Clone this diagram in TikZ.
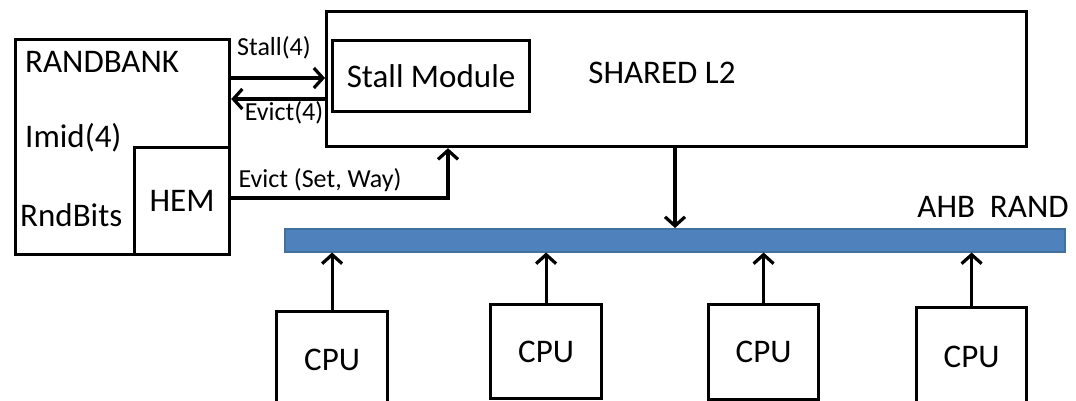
\documentclass[tikz,border=0pt]{standalone}
\usepackage{fontspec}
\setmainfont{Carlito}
\usetikzlibrary{arrows.meta}
\definecolor{busfill}{HTML}{4F81BD}
\definecolor{busedge}{HTML}{41719C}
\begin{document}
\begin{tikzpicture}[x=1pt,y=-1pt,
  blk/.style={draw, line width=3.2pt, inner sep=0pt, anchor=north west},
  big/.style={font=\fontsize{33}{33}\selectfont},
  small/.style={font=\fontsize{26}{26}\selectfont},
  link/.style={line width=3.2pt, -{Straight Barb[length=9pt,width=20pt,line width=3.2pt]}},
  lbl/.style={inner sep=0pt},
]
\useasboundingbox (0,0) rectangle (1076,401);
\clip (0,0) rectangle (1076,401);

% random bank with its hardware eviction module
\node[blk, minimum width=214pt, minimum height=215pt] (rb) at (14,38) {};
\node[blk, big, minimum width=95pt, minimum height=107pt] (hem) at (133,146) {HEM};
\node[big, lbl, anchor=west] (rbname) at (25,62) {RANDBANK};
\node[big, lbl, anchor=west] (imid) at (25,138) {Imid(4)};
\node[big, lbl, anchor=west] (rnd) at (20,215) {RndBits};

% shared L2 cache
\node[blk, minimum width=700pt, minimum height=135pt] (l2) at (325,10) {};
\node[blk, big, minimum width=197pt, minimum height=71pt] (stall) at (331,39) {Stall Module};
\node[big, lbl] (l2name) at (662,73) {SHARED L2};

% bus
\node[draw=busedge, fill=busfill, line width=1.5pt, inner sep=0pt,
      minimum width=780pt, minimum height=23pt, anchor=north west] (bus) at (284,228) {};
\node[big, lbl] (busname) at (993,207) {AHB\ \ RAND};

% processors
\node[blk, big, minimum width=111pt, minimum height=96pt] (cpu1) at (275,310) {CPU};
\node[blk, big, minimum width=111pt, minimum height=94pt] (cpu2) at (489,303) {CPU};
\node[blk, big, minimum width=110pt, minimum height=95pt] (cpu3) at (707,303) {CPU};
\node[blk, big, minimum width=110pt, minimum height=98pt] (cpu4) at (915,306) {CPU};

% signal rows
\coordinate (sy) at (0,78);
\coordinate (ey) at (0,99);
\coordinate (wy) at (0,198);
\coordinate (wx) at (448,0);
\coordinate (dx) at (675,0);

\draw[link] (rb.east |- sy) -- (l2.west |- sy);
\draw[link] (l2.west |- ey) -- (rb.east |- ey);
\draw[link] (hem.east |- wy) -| (l2.south -| wx);
\draw[link] (l2.south -| dx) -- (bus.north -| dx);

\node[small, lbl] (stl) at (274,48) {Stall(4)};
\node[small, lbl] (evl) at (284,113) {Evict(4)};
\node[small, lbl] (swl) at (320,180) {Evict (Set, Way)};

\foreach \c in {cpu1,cpu2,cpu3,cpu4}
  \draw[link] (\c.north) -- (bus.south -| \c.north);
\end{tikzpicture}
\end{document}
